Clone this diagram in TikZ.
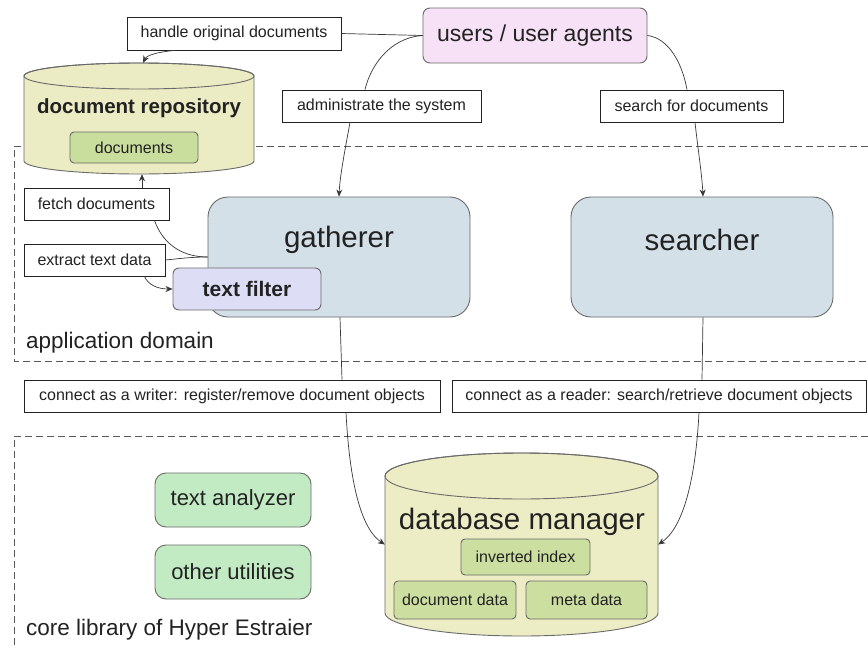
\documentclass[tikz,border=0pt]{standalone}
\usepackage{fontspec}
\setmainfont{Liberation Sans}
\usetikzlibrary{arrows.meta}
\definecolor{usersFill}{HTML}{F6E1F6}
\definecolor{repoFill}{HTML}{EBECC3}
\definecolor{docsFill}{HTML}{C9DE9C}
\definecolor{gathFill}{HTML}{D3E0E7}
\definecolor{tfFill}{HTML}{DEDDF6}
\definecolor{anaFill}{HTML}{C3EBC3}
\definecolor{dbFill}{HTML}{EDEDC5}
\definecolor{dbInner}{HTML}{CCDEA0}
\definecolor{edge}{HTML}{6A6A6A}
\definecolor{ink}{HTML}{222222}
\begin{document}
\begin{tikzpicture}[x=1pt,y=-1pt,
  lbl/.style={draw=ink, line width=0.7pt, fill=white, inner sep=0pt, text=ink,
    font=\fontsize{16}{18}\selectfont},
  rbox/.style={draw=edge, line width=0.9pt, inner sep=0pt, text=ink},
  ghost/.style={inner sep=0pt, draw=none},
  conn/.style={draw=ink!90, line width=0.7pt},
  arr/.style={conn, -{Stealth[length=7pt,width=6pt]}},
  dashline/.style={draw=black!65, line width=0.8pt, dash pattern=on 7pt off 4pt},
  bigtxt/.style={inner sep=0pt, text=ink, font=\fontsize{29.5}{33}\selectfont},
  midtxt/.style={inner sep=0pt, text=ink, font=\fontsize{22.5}{26}\selectfont},
  smalltxt/.style={font=\fontsize{16}{18}\selectfont}
]
\useasboundingbox (0,0) rectangle (868,648);
\fill[white] (0,0) rectangle (868,648);

% domain frames
\draw[dashline] (868,146) -- (14,146) -- (14,361) -- (868,361);
\draw[dashline] (868,436) -- (14,436) -- (14,648);

% document repository cylinder
\path[fill=repoFill, draw=edge, line width=0.9pt] (24,76) -- (24,161)
  arc[start angle=180, end angle=0, x radius=115, y radius=13] -- (254,76)
  arc[start angle=0, end angle=-180, x radius=115, y radius=13] -- cycle;
\draw[edge, line width=0.9pt] (139,76) ellipse [x radius=115, y radius=13];
\node[ghost, minimum width=230pt, minimum height=111pt] (repo) at (139,118.5) {};
\node[inner sep=0pt, text=ink, font=\fontsize{20.5}{24}\selectfont\bfseries] (repotxt) at (139,108) {document repository};
\node[rbox, fill=docsFill, rounded corners=4pt, minimum width=128pt, minimum height=31pt,
  smalltxt] (docs) at (134,147.5) {documents};

% users
\node[rbox, fill=usersFill, rounded corners=7pt, minimum width=224pt, minimum height=55pt,
  font=\fontsize{23}{27}\selectfont] (users) at (535,35.5) {users / user agents};

% labels top
\node[lbl, minimum width=214pt, minimum height=33pt] (hande) at (234,33.5) {handle original documents};
\node[lbl, minimum width=199pt, minimum height=32pt] (adm) at (381.5,106) {administrate the system};
\node[lbl, minimum width=183pt, minimum height=32pt] (srch) at (691.5,106) {search for documents};

% gatherer and searcher
\node[rbox, fill=gathFill, rounded corners=20pt, minimum width=262pt, minimum height=120pt] (gath) at (339,257) {};
\node[bigtxt] (gathtxt) at (339,240) {gatherer};
\node[rbox, fill=gathFill, rounded corners=20pt, minimum width=262pt, minimum height=120pt] (srcher) at (702,257) {};
\node[bigtxt] (srchtxt) at (702,240) {searcher};

\node[lbl, minimum width=145pt, minimum height=32pt] (fetch) at (96.5,204) {fetch documents};
\node[lbl, minimum width=141pt, minimum height=32pt] (extract) at (94.5,260) {extract text data};
\node[rbox, fill=tfFill, rounded corners=6pt, minimum width=148pt, minimum height=42pt,
  font=\fontsize{21}{25}\selectfont\bfseries] (tf) at (247,289) {text filter};

\node[midtxt, anchor=west] (applbl) at (26,343) {application domain};

% middle labels
\node[lbl, minimum width=416pt, minimum height=32pt] (writer) at (232,396)
  {connect as a writer: register/remove document objects};
\node[lbl, minimum width=414pt, minimum height=32pt] (reader) at (659,396)
  {connect as a reader: search/retrieve document objects};

% core library
\node[rbox, fill=anaFill, rounded corners=11pt, minimum width=156pt, minimum height=54pt,
  font=\fontsize{22}{26}\selectfont] (ana) at (233,500) {text analyzer};
\node[rbox, fill=anaFill, rounded corners=11pt, minimum width=156pt, minimum height=54pt,
  font=\fontsize{22}{26}\selectfont] (util) at (233,572) {other utilities};

% database manager cylinder
\path[fill=dbFill, draw=edge, line width=0.9pt] (385,476) -- (385,613)
  arc[start angle=180, end angle=0, x radius=136.5, y radius=23] -- (658,476)
  arc[start angle=0, end angle=-180, x radius=136.5, y radius=23] -- cycle;
\draw[edge, line width=0.9pt] (521.5,476) ellipse [x radius=136.5, y radius=23];
\node[ghost, minimum width=273pt, minimum height=183pt] (db) at (521.5,544.5) {};
\node[bigtxt] (dbtxt) at (522,522) {database manager};
\node[rbox, fill=dbInner, rounded corners=4pt, minimum width=129pt, minimum height=36pt,
  smalltxt] (inv) at (525.5,557) {inverted index};
\node[rbox, fill=dbInner, rounded corners=4pt, minimum width=122pt, minimum height=38pt,
  smalltxt] (ddata) at (455,600) {document data};
\node[rbox, fill=dbInner, rounded corners=4pt, minimum width=121pt, minimum height=38pt,
  smalltxt] (mdata) at (586.5,600) {meta data};

\node[midtxt, anchor=west] (corelbl) at (26,630) {core library of Hyper Estraier};

% connectors
\draw[conn] (users.west) -- (hande.east);
\draw[arr] ([xshift=-59pt]hande.south) .. controls (158,52) and (147,55) .. ([xshift=4pt]repo.north);
\draw[conn] (users.west) .. controls (388,38) and (370,68) .. ([xshift=-16.5pt]adm.north);
\draw[arr] ([xshift=-31.5pt]adm.south) .. controls (345,150) and (340,175) .. (gath.north);
\draw[conn] (users.east) .. controls (668,38) and (682,62) .. ([xshift=-4.5pt]srch.north);
\draw[arr] ([xshift=3.5pt]srch.south) .. controls (698,150) and (702,175) .. ([xshift=1pt]srcher.north);

\draw[conn] (gath.west) .. controls (180,257) and (162,242) .. ([xshift=58pt]fetch.south);
\draw[arr] ([xshift=45.5pt]fetch.north) -- ([xshift=3pt]repo.south);
\draw[conn] (gath.west) .. controls (190,257) and (176,259) .. (extract.east);
\draw[arr] ([xshift=50pt]extract.south) .. controls (148,285) and (158,289) .. (tf.west);

\draw[conn] ([xshift=1pt]gath.south) -- ([xshift=110pt]writer.north);
\draw[arr] ([xshift=114pt]writer.south) .. controls (350,490) and (363,530) .. (db.west);
\draw[conn] ([xshift=1pt]srcher.south) -- ([xshift=43pt]reader.north);
\draw[arr] ([xshift=40pt]reader.south) .. controls (695,490) and (680,530) .. (db.east);
\end{tikzpicture}
\end{document}
